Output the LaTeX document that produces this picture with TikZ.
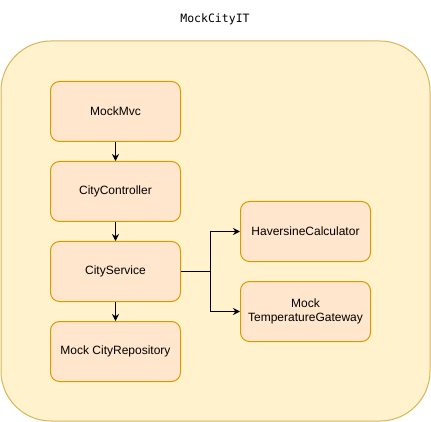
\documentclass[tikz,border=0pt]{standalone}
\usepackage{fontspec}
\setmainfont{Liberation Sans}
\newfontfamily\monofont{DejaVu Sans Mono}
\usetikzlibrary{arrows.meta}

\definecolor{fondcadre}{HTML}{FFF2CC}
\definecolor{bordcadre}{HTML}{D6B656}
\definecolor{fondboite}{HTML}{FFE6CC}
\definecolor{bordboite}{HTML}{D79B00}

\begin{document}
\begin{tikzpicture}[x=1pt,y=-1pt,
  boite/.style={draw=bordboite, fill=fondboite, line width=1pt, rounded corners=9pt,
    minimum width=130pt, minimum height=60pt, align=center, inner sep=2pt,
    font=\fontsize{12}{14}\selectfont},
  fleche/.style={-{Stealth[length=7pt,width=7pt]}, line width=1pt}]

% Cadre de la page
\useasboundingbox (0,0) rectangle (431,422);

% Cadre du test
\draw[draw=bordcadre, fill=fondcadre, line width=1pt, rounded corners=50pt] (1,41) rectangle (430,421);
\node[font=\monofont\fontsize{11.5}{13}\selectfont] (titre) at (215,19) {MockCityIT};

% Composants
\node[boite] (mvc) at (115.5,111.5) {MockMvc};
\node[boite] (controleur) at (115.5,191.5) {CityController};
\node[boite] (service) at (115.5,271.5) {CityService};
\node[boite] (depot) at (115.5,351.5) {Mock CityRepository};
\node[boite] (haversine) at (305.5,231.5) {HaversineCalculator};
\node[boite] (passerelle) at (305.5,311.5) {Mock\\TemperatureGateway};

% Liaisons
\draw[fleche] (mvc) -- (controleur);
\draw[fleche] (controleur) -- (service);
\draw[fleche] (service) -- (depot);
\coordinate (branche) at (210.5,271.5);
\draw[line width=1pt] (service.east) -- (branche);
\draw[fleche] (branche) |- (haversine.west);
\draw[fleche] (branche) |- (passerelle.west);

\end{tikzpicture}
\end{document}
